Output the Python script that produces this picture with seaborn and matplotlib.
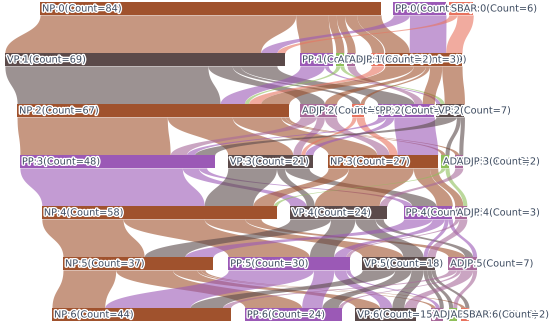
import numpy as np
import matplotlib
matplotlib.use("Agg")
import matplotlib.pyplot as plt
import matplotlib.patheffects as pe
import seaborn as sns

sns.set_theme(style="white")
plt.rcParams['font.family'] = ['DejaVu Sans']

# ---- data: node types and counts per level ----
level0_types = ["NP", "PP", "SBAR"]
level0_counts = [84, 13, 6]
level1_types = ["VP", "PP", "ADVP", "ADJP", "SBAR", "NP"]
level1_counts = [69, 8, 2, 2, 3, 19]
level2_types = ["NP", "ADJP", "SBAR", "PP", "VP"]
level2_counts = [67, 9, 3, 14, 7]
level3_types = ["PP", "VP", "NP", "ADVP", "ADJP"]
level3_counts = [48, 21, 27, 2, 2]
level4_types = ["NP", "VP", "PP", "ADJP"]
level4_counts = [58, 24, 12, 3]
level5_types = ["NP", "PP", "VP", "ADJP"]
level5_counts = [37, 30, 18, 7]
level6_types = ["NP", "PP", "VP", "ADJP", "ADVP", "SBAR"]
level6_counts = [44, 24, 15, 3, 2, 2]

# flows between consecutive levels: (source index, target index, count)
flows_0_1 = [(0, 0, 63), (0, 1, 8), (0, 2, 2), (0, 3, 2), (0, 4, 3), (0, 5, 6),
             (1, 0, 4), (1, 5, 9), (2, 0, 2), (2, 5, 4)]
flows_1_2 = [(0, 0, 50), (0, 1, 6), (0, 2, 2), (0, 3, 9),
             (1, 0, 6), (1, 4, 1), (2, 0, 1), (2, 4, 1), (3, 3, 2), (4, 0, 3),
             (5, 0, 7), (5, 1, 3), (5, 2, 1), (5, 3, 3), (5, 4, 5)]
flows_2_3 = [(0, 0, 37), (0, 1, 16), (0, 2, 12), (0, 3, 1), (0, 4, 1),
             (1, 0, 4), (1, 1, 2), (1, 2, 3), (2, 1, 1), (2, 2, 2),
             (3, 0, 2), (3, 1, 2), (3, 2, 10), (4, 0, 5), (4, 3, 1), (4, 4, 1)]
flows_3_4 = [(0, 0, 40), (0, 1, 4), (0, 2, 2), (1, 0, 12), (1, 1, 2), (1, 2, 6),
             (2, 0, 5), (2, 1, 16), (2, 2, 4), (2, 3, 2), (3, 0, 1), (3, 3, 1),
             (4, 1, 2)]
flows_4_5 = [(0, 0, 20), (0, 1, 20), (0, 2, 10), (0, 3, 4),
             (1, 0, 10), (1, 1, 6), (1, 2, 5), (1, 3, 2),
             (2, 0, 7), (2, 1, 3), (2, 2, 1), (2, 3, 1), (3, 1, 1), (3, 2, 2)]
flows_5_6 = [(0, 0, 13), (0, 1, 14), (0, 2, 6), (0, 3, 1), (0, 5, 1),
             (1, 0, 21), (1, 1, 5), (1, 2, 3), (1, 3, 1),
             (2, 0, 8), (2, 1, 4), (2, 2, 3), (2, 3, 1), (2, 4, 1), (2, 5, 1),
             (3, 0, 2), (3, 1, 1), (3, 2, 3), (3, 4, 1)]

# ---- layout / style (not data) ----
types = [level0_types, level1_types, level2_types, level3_types,
         level4_types, level5_types, level6_types]
counts = [level0_counts, level1_counts, level2_counts, level3_counts,
          level4_counts, level5_counts, level6_counts]
flows = [flows_0_1, flows_1_2, flows_2_3, flows_3_4, flows_4_5, flows_5_6]

row_start = [9.85, 1.2, 4.2, 4.9, 10.3, 15.5, 12.8]
row_gaps = [[3.0, 0.7],
            [3.7, 0.8, 0.8, 4.0, 0.3],
            [2.7, 3.8, 3.3, 0.4],
            [3.2, 3.7, 0.8, 1.4],
            [3.1, 4.0, 0.6],
            [3.7, 3.0, 3.2],
            [3.5, 3.2, 3.7, 1.3, 1.0]]
# order in which labels are stacked (later ones on top)
label_order = [[0, 1, 2],
               [0, 5, 1, 2, 4, 3],
               [0, 2, 1, 3, 4],
               [0, 1, 2, 3, 4],
               [0, 1, 2, 3],
               [0, 1, 2, 3],
               [0, 1, 2, 3, 4, 5]]

colors = {"NP": "#a0522d", "VP": "#5b4a4a", "PP": "#9b59b6",
          "ADJP": "#a8699a", "SBAR": "#e8735f", "ADVP": "#8fbf5a"}

bar_h = 0.25
W, H = 550, 323
px_per_unit = 4.06
row_px = 51.0
y_top = 8.5

fig = plt.figure(figsize=(W / 100, H / 100), dpi=100)
ax = fig.add_axes([0, 0, 1, 1])
ax.set_xlim(0, W / px_per_unit)
ax.set_ylim((H - y_top) / row_px, -y_top / row_px)
ax.axis("off")

# node left positions
lefts = []
for r, cnts in enumerate(counts):
    x = row_start[r]
    ls = []
    for k, c in enumerate(cnts):
        ls.append(x)
        x += c
        if k < len(cnts) - 1:
            x += row_gaps[r][k]
    lefts.append(ls)

# flows
t = np.linspace(0, 1, 80)
b0, b1, b2, b3 = (1 - t) ** 3, 3 * (1 - t) ** 2 * t, 3 * (1 - t) * t ** 2, t ** 3
for r, fl in enumerate(flows):
    src_off = list(lefts[r])
    tgt_off = list(lefts[r + 1])
    s_pos, t_pos = {}, {}
    for f in sorted(fl, key=lambda f: (f[0], f[1])):
        s_pos[f] = src_off[f[0]]
        src_off[f[0]] += f[2]
    for f in sorted(fl, key=lambda f: (f[1], f[0])):
        t_pos[f] = tgt_off[f[1]]
        tgt_off[f[1]] += f[2]
    y0 = r + bar_h / 2
    y1 = r + 1 - bar_h / 2
    ym = (y0 + y1) / 2
    yy = y0 * b0 + ym * (b1 + b2) + y1 * b3
    for f in fl:
        xs, xt = s_pos[f], t_pos[f]
        xl = xs * (b0 + b1) + xt * (b2 + b3)
        xr = (xs + f[2]) * (b0 + b1) + (xt + f[2]) * (b2 + b3)
        ax.fill_betweenx(yy, xl, xr, color=colors[types[r][f[0]]],
                         alpha=0.6, linewidth=0, zorder=1)

# nodes
for r in range(len(counts)):
    for k, (tp, c) in enumerate(zip(types[r], counts[r])):
        ax.barh(r, c, left=lefts[r][k], height=bar_h, color=colors[tp],
                linewidth=0, zorder=2)

# labels
z = 3.0
for r in range(len(counts)):
    for k in label_order[r]:
        tp, c = types[r][k], counts[r][k]
        z += 0.01
        ax.text(lefts[r][k] + 0.5, r, f"{tp}:{r}(Count={c})", fontsize=7,
                ha="left", va="center", color="#3d4b60", zorder=z,
                path_effects=[pe.withStroke(linewidth=2.0, foreground="white")])

fig.savefig("out.png", dpi=100)
